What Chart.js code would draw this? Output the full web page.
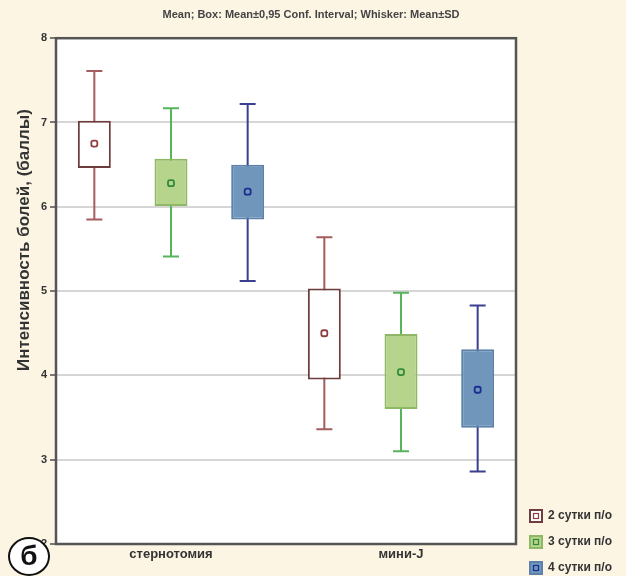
<!DOCTYPE html>
<html>
<head>
<meta charset="utf-8">
<script src="https://cdn.jsdelivr.net/npm/chart.js@4"></script>
<style>
  html, body { margin: 0; padding: 0; background: #fcf5e4; }
  #wrap { position: relative; width: 626px; height: 576px; }
  #badge {
    position: absolute; left: 8px; top: 537px; width: 38px; height: 35px;
    border: 2px solid #111; border-radius: 50%; background: #fff;
    font: bold 28px "Liberation Sans", Arial, sans-serif; color: #111;
    text-align: center; line-height: 34px;
  }
</style>
</head>
<body>
<div id="wrap">
  <canvas id="boxChart" width="626" height="576"></canvas>
  <div id="badge">б</div>
</div>
<script>
// группы и серии
var groups = ['стернотомия', 'мини-J'];
var seriesNames = ['2 сутки п/о', '3 сутки п/о', '4 сутки п/о'];

// средние, 0,95 дов. интервал (коробка), SD (усы) — по каждой серии, для двух групп
var means  = [[6.75, 4.50], [6.28, 4.04], [6.18, 3.83]];
var ciLow  = [[6.46, 3.95], [6.01, 3.60], [5.85, 3.38]];
var ciHigh = [[7.02, 5.03], [6.57, 4.49], [6.50, 4.31]];
var sdLow  = [[5.85, 3.36], [5.41, 3.10], [5.12, 2.86]];
var sdHigh = [[7.61, 5.64], [7.17, 4.98], [7.22, 4.83]];

var yTicks = [2, 3, 4, 5, 6, 7, 8];
var yTitle = 'Интенсивность болей, (баллы)';

// цвета серий
var boxFill     = ['#ffffff', '#b7d48c', '#7096bc'];
var boxBorder   = ['#6e3c3c', '#8fb866', '#5d82aa'];
var whiskerCol  = ['#a45c5c', '#55b55a', '#3a3f92'];
var meanCol     = ['#8e3f3f', '#2f8a3a', '#1c2d90'];

var fontFam = '"Liberation Sans", Arial, sans-serif';

// иконка легенды: квадрат с точкой внутри
function legendIcon(i) {
    var c = document.createElement('canvas');
    c.width = 14; c.height = 14;
    var g = c.getContext('2d');
    g.fillStyle = boxFill[i];
    g.fillRect(1, 1, 12, 12);
    g.strokeStyle = boxBorder[i];
    g.lineWidth = 2;
    g.strokeRect(1, 1, 12, 12);
    g.strokeStyle = meanCol[i];
    g.lineWidth = 1.2;
    g.strokeRect(4.5, 4.5, 5, 5);
    return c;
}

var datasets = seriesNames.map(function(name, i) {
    return {
        label: name,
        data: ciLow[i].map(function(lo, j) { return [lo, ciHigh[i][j]]; }),
        backgroundColor: boxFill[i],
        borderColor: boxBorder[i],
        borderWidth: 2,
        borderSkipped: false,
        categoryPercentage: 1.0,
        barPercentage: 0.43,
        pointStyle: legendIcon(i)
    };
});

// фон, рамка, усы, средние и подпись оси Y
var boxPlotExtras = {
    id: 'boxPlotExtras',
    afterLayout: function(chart) {
        // легенда в оригинале прижата к самому низу
        if (chart.legend) chart.legend.bottom += 12;
    },
    beforeDraw: function(chart) {
        var ctx = chart.ctx, a = chart.chartArea;
        ctx.save();
        ctx.fillStyle = '#fcf5e4';
        ctx.fillRect(0, 0, chart.width, chart.height);
        ctx.fillStyle = '#ffffff';
        ctx.fillRect(a.left, a.top, a.right - a.left, a.bottom - a.top);
        ctx.restore();
    },
    beforeDatasetsDraw: function(chart) {
        var ctx = chart.ctx, y = chart.scales.y;
        ctx.save();
        chart.data.datasets.forEach(function(ds, i) {
            var meta = chart.getDatasetMeta(i);
            meta.data.forEach(function(bar, j) {
                var x = bar.x;
                var top = y.getPixelForValue(sdHigh[i][j]);
                var bot = y.getPixelForValue(sdLow[i][j]);
                ctx.strokeStyle = whiskerCol[i];
                ctx.lineWidth = 2;
                ctx.beginPath();
                ctx.moveTo(x, top); ctx.lineTo(x, bot);
                ctx.moveTo(x - 8, top); ctx.lineTo(x + 8, top);
                ctx.moveTo(x - 8, bot); ctx.lineTo(x + 8, bot);
                ctx.stroke();
            });
        });
        ctx.restore();
    },
    afterDatasetsDraw: function(chart) {
        var ctx = chart.ctx, y = chart.scales.y, a = chart.chartArea;
        ctx.save();
        chart.data.datasets.forEach(function(ds, i) {
            var meta = chart.getDatasetMeta(i);
            meta.data.forEach(function(bar, j) {
                var my = y.getPixelForValue(means[i][j]);
                ctx.strokeStyle = meanCol[i];
                ctx.lineWidth = 1.8;
                ctx.beginPath();
                ctx.roundRect(bar.x - 3, my - 3, 6, 6, 2);
                ctx.stroke();
            });
        });
        // рамка области графика
        ctx.strokeStyle = '#555';
        ctx.lineWidth = 2.5;
        ctx.strokeRect(a.left, a.top, a.right - a.left, a.bottom - a.top);

        // подпись оси Y (в оригинале смещена выше центра)
        ctx.translate(24, 240);
        ctx.rotate(-Math.PI / 2);
        ctx.fillStyle = '#333';
        ctx.font = 'bold 17px ' + fontFam;
        ctx.textAlign = 'center';
        ctx.textBaseline = 'middle';
        ctx.fillText(yTitle, 0, 0);
        ctx.restore();
    }
};

var ctx = document.getElementById('boxChart').getContext('2d');
var boxChart = new Chart(ctx, {
    type: 'bar',
    data: { labels: groups, datasets: datasets },
    options: {
        responsive: false,
        animation: false,
        layout: { padding: { top: 4, right: 4, left: 0, bottom: 0 } },
        plugins: {
            title: {
                display: true,
                text: 'Mean; Box: Mean±0,95 Conf. Interval; Whisker: Mean±SD',
                color: '#444',
                font: { family: fontFam, size: 11, weight: 'bold' },
                padding: { top: 4, bottom: 17 }
            },
            legend: {
                position: 'right',
                align: 'end',
                labels: {
                    usePointStyle: true,
                    color: '#333',
                    font: { family: fontFam, size: 12, weight: 'bold' },
                    padding: 14
                }
            },
            tooltip: { enabled: false }
        },
        scales: {
            x: {
                grid: { display: false },
                border: { display: false },
                afterFit: function(s) { s.height = 32; },
                ticks: {
                    color: '#333',
                    font: { family: fontFam, size: 13, weight: 'bold' },
                    padding: -5
                }
            },
            y: {
                min: 2,
                max: 8,
                afterBuildTicks: function(axis) {
                    axis.ticks = yTicks.map(function(v) { return { value: v }; });
                },
                afterFit: function(s) { s.width = 56; },
                grid: { color: '#d6d6d6', lineWidth: 2, tickLength: 6, tickColor: '#777' },
                border: { display: false },
                ticks: {
                    color: '#333',
                    font: { family: fontFam, size: 11, weight: 'bold' },
                    padding: 3
                }
            }
        }
    },
    plugins: [boxPlotExtras]
});
</script>
</body>
</html>
